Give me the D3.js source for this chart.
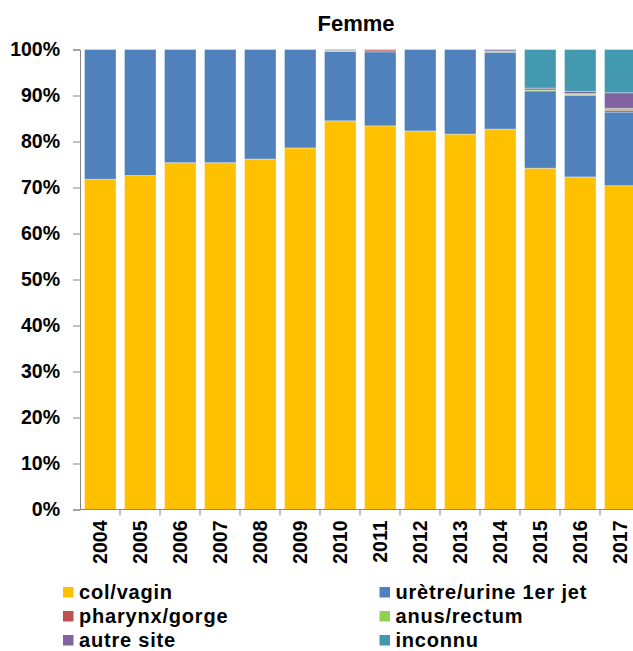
<!DOCTYPE html>
<html>
<head>
<meta charset="utf-8">
<script src="https://cdn.jsdelivr.net/npm/d3@7"></script>
<style>
  html, body { margin: 0; padding: 0; background: #fff; }
  svg { display: block; }
  text { font-family: "Liberation Sans", Arial, sans-serif; font-weight: bold; fill: #000; }
</style>
</head>
<body>
<svg id="chart" width="633" height="651"></svg>
<script>
const title = "Femme";
const years = ["2004","2005","2006","2007","2008","2009","2010","2011","2012","2013","2014","2015","2016","2017"];
const seriesNames = ["col/vagin","urètre/urine 1er jet","pharynx/gorge","anus/rectum","autre site","inconnu"];
const seriesColors = ["#FFC000","#4F81BD","#C0504D","#92D050","#8064A2","#4399B0"];
// values in %
const colVagin   = [71.8, 72.6, 75.4, 75.4, 76.2, 78.6, 84.5, 83.4, 82.3, 81.6, 82.7, 74.2, 72.3, 70.4];
const uretre     = [28.2, 27.4, 24.6, 24.6, 23.8, 21.4, 15.1, 16.1, 17.7, 18.4, 16.7, 16.8, 17.7, 16.0];
const pharynx    = [0, 0, 0, 0, 0, 0, 0, 0.4, 0, 0, 0, 0, 0.2, 0.4];
const anus       = [0, 0, 0, 0, 0, 0, 0.2, 0, 0, 0, 0.3, 0.2, 0.2, 0.4];
const autreSite  = [0, 0, 0, 0, 0, 0, 0.2, 0.1, 0, 0, 0.3, 0.4, 0.5, 3.4];
const inconnu    = [0, 0, 0, 0, 0, 0, 0, 0, 0, 0, 0, 8.4, 9.1, 9.4];
const yTicks = [0, 10, 20, 30, 40, 50, 60, 70, 80, 90, 100];

const seriesValues = [colVagin, uretre, pharynx, anus, autreSite, inconnu];
const rows = years.map((y, i) => {
  const r = { year: y };
  seriesNames.forEach((s, k) => { r[s] = seriesValues[k][i]; });
  return r;
});

const svg = d3.select("#chart");
const x = d3.scaleBand().domain(years).range([80, 640]).paddingInner(0.2).paddingOuter(0.1);
const y = d3.scaleLinear().domain([0, 100]).range([509.5, 49.5]);
const color = d3.scaleOrdinal().domain(seriesNames).range(seriesColors);

const stack = d3.stack().keys(seriesNames);
const stacked = stack(rows);

// bars
svg.append("g").selectAll("g").data(stacked).join("g")
  .attr("fill", d => color(d.key))
  .selectAll("rect").data(d => d.filter(p => p[1] - p[0] > 0)).join("rect")
  .attr("x", d => x(d.data.year) + 0.5)
  .attr("width", x.bandwidth() - 0.5)
  .attr("y", d => y(d[1]))
  .attr("height", d => y(d[0]) - y(d[1]))
  .attr("stroke", "rgba(255,255,255,0.35)")
  .attr("stroke-width", 1);

// y axis
const yAxis = d3.axisLeft(y).tickValues(yTicks).tickFormat(d => d + "%").tickSize(7).tickPadding(13);
const gy = svg.append("g").attr("transform", "translate(80,0)").call(yAxis);
gy.select(".domain").attr("stroke", "#868686");
gy.selectAll(".tick line").attr("stroke", "#868686");
gy.selectAll(".tick text").style("font-size", "19.5px").style("font-family", "'Liberation Sans', Arial, sans-serif").style("font-weight", "bold").attr("fill", "#000").attr("dy", "0.3em");

// x axis baseline + ticks at band boundaries
const gx = svg.append("g");
gx.append("line").attr("x1", 80).attr("x2", 640).attr("y1", y(0)).attr("y2", y(0)).attr("stroke", "#868686");
const off = (x.step() - x.bandwidth()) / 2;
gx.selectAll("line.tk").data(years).join("line").attr("class", "tk")
  .attr("x1", d => x(d) - off + x.step()).attr("x2", d => x(d) - off + x.step())
  .attr("y1", y(0)).attr("y2", y(0) + 6).attr("stroke", "#868686");
gx.selectAll("text").data(years).join("text")
  .attr("transform", d => `translate(${x(d) + x.bandwidth() / 2},520.5) rotate(-90)`)
  .attr("text-anchor", "end")
  .attr("dy", "0.36em")
  .style("font-size", "19.5px")
  .text(d => d);

// title
svg.append("text").attr("x", 356).attr("y", 31).attr("text-anchor", "middle")
  .style("font-size", "22px").text(title);

// legend
const legendX = [63, 379.5];
const legendY = [598.5, 622.5, 646.5];
const lg = svg.append("g").selectAll("g").data(seriesNames).join("g")
  .attr("transform", (d, i) => `translate(${legendX[i % 2]},${legendY[Math.floor(i / 2)]})`);
lg.append("rect").attr("x", 0).attr("y", -11.5).attr("width", 10.5).attr("height", 10.5)
  .attr("fill", d => color(d));
lg.append("text").attr("x", 16).attr("y", 0)
  .style("font-size", "20px").style("letter-spacing", "0.8px").text(d => d);
</script>
</body>
</html>
